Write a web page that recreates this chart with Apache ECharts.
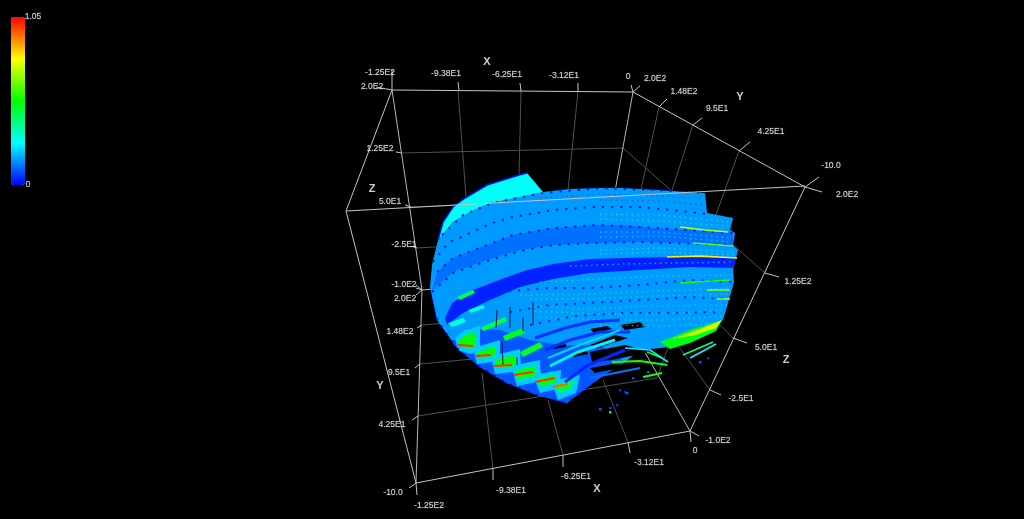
<!DOCTYPE html>
<html><head><meta charset="utf-8">
<style>html,body{margin:0;padding:0;background:#000}#c{width:1024px;height:519px}</style>
<script src="https://cdn.jsdelivr.net/npm/echarts@6/dist/echarts.min.js"></script></head>
<body><div id="c"></div>
<script>
// All outlines: [across, down] on the picture plane.
const legendMax = 1.05, legendMin = 0;
const rainbow = ['#0000ff','#00ffff','#00ff00','#ffff00','#ff0000'];

// wire frame
const frameBack = [
  [[392,90],[422,290],[416,483]], [[633,92],[600,274],[690,431]], [[422,290],[600,274]]
];
const frameFront = [
  [[392,90],[633,92],[805,187]], [[392,90],[346,211],[416,483],[690,431],[805,187]],
  [[346,211],[805,186]],
  [[392,70],[392,90]],[[376,87],[392,90]],[[633,92],[631,85]],[[633,92],[640,86]],
  [[402,153],[396,152]],[[411,207],[405,205]],[[417,248],[411,246]],[[422,290],[416,288]],
  [[416,483],[409,488]],[[416,483],[417,495]],
  [[458,82],[459,90]],[[520,83],[521,91]],[[578,83],[578,91]],
  [[659,107],[667,99]],[[693,125],[702,118]],[[739,151],[750,142]],[[805,187],[819,177]],[[805,187],[822,192]],
  [[765,273],[779,277]],[[733,338],[747,343]],[[710,390],[721,395]],[[690,431],[699,436]],[[690,431],[691,442]],
  [[422,325],[417,328]],[[420,364],[415,368]],[[418,416],[412,420]],[[422,290],[416,285]],[[422,290],[416,295]],
  [[493,469],[493,480]],[[563,455],[563,467]],[[628,442],[630,453]]
];
const gridLines = [
  [[402,153],[623,148],[765,273]], [[411,207],[600,200]], [[417,248],[600,237]],
  [[458,90],[466,197],[470,260]], [[482,373],[493,469]], [[521,91],[519,175],[519,260]], [[548,400],[563,455]],
  [[578,91],[568,190],[560,260]], [[603,380],[628,442]],
  [[659,107],[630,240]], [[693,125],[640,290]], [[739,151],[657,378]],
  [[422,325],[600,310]], [[420,364],[620,345]], [[418,416],[657,378]],
  [[600,200],[733,338]], [[600,237],[710,390]]
];

// point cloud regions: outlines and the value each carries
const silhouette = [[438,240],[453,222],[470,212],[490,203],[520,197],[543,192],[570,189],[600,188],[623,188],[657,190],[705,193],[707,213],[733,218],[730,230],[735,233],[733,245],[738,250],[735,262],[733,270],[734,282],[728,303],[723,320],[700,335],[670,347],[640,350],[625,362],[607,373],[593,383],[573,398],[567,403],[537,395],[507,383],[480,367],[457,348],[437,320],[430,287],[432,265]];
const wedge = [[438,240],[443,222],[453,207],[465,198],[487,185],[519,175],[527,173],[543,192],[520,197],[490,203],[470,212],[453,222]];
const bandMid = [[432,290],[437,272],[453,258],[487,245],[513,235],[553,228],[597,225],[623,225],[657,228],[733,233],[733,245],[690,243],[640,242],[590,243],[553,245],[520,250],[487,260],[453,272]];
const bandDark = [[445,318],[452,303],[473,290],[507,277],[527,270],[553,264],[590,259],[623,258],[673,257],[737,258],[733,268],[690,267],[640,270],[590,273],[553,279],[520,287],[490,300],[463,313],[447,325]];
const bandLower = [[452,342],[470,328],[500,330],[530,340],[560,345],[600,345],[625,362],[607,373],[593,383],[573,398],[567,403],[537,395],[507,383],[480,367],[457,348]];
const greenWedge = [[660,342],[690,330],[722,320],[716,331],[690,343],[670,349]];
const yellowWedge = [[672,339],[700,329],[722,320],[716,328],[695,335]];
const halo1 = [[455,338],[465,330],[480,326],[480,350],[470,354],[458,350]];
const halo2 = [[473,348],[500,340],[500,361],[477,364]];
const halo3 = [[491,356],[520,349],[521,371],[495,374]];
const halo4 = [[511,366],[540,360],[541,381],[517,386]];
const halo5 = [[533,375],[561,370],[560,388],[540,393]];
const halo6 = [[551,381],[580,375],[576,393],[558,400]];
const fin1 = [[458,342],[465,335],[476,332],[476,346],[470,349],[460,346]];
const fin2 = [[477,352],[496,346],[495,356],[479,358]];
const fin3 = [[495,360],[515,355],[516,366],[497,368]];
const fin4 = [[515,370],[535,366],[536,376],[518,380]];
const fin5 = [[537,379],[556,375],[555,383],[541,387]];
const fin6 = [[555,385],[574,380],[571,388],[559,393]];
const stripe1 = [[480,328],[505,317],[507,321],[484,331]];
const stripe2 = [[503,336],[523,328],[525,333],[505,341]];
const stripe3 = [[520,352],[540,342],[543,347],[523,357]];
const stripe4 = [[448,323],[463,318],[466,322],[452,327]];
const stripe5 = [[468,310],[483,305],[485,308],[471,313]];
const stripe6 = [[457,297],[473,290],[475,293],[460,300]];
const gap1 = [[553,346],[566,344],[566,347],[554,349]];
const gap2 = [[572,354],[587,351],[588,354],[574,357]];
const gap3 = [[590,329],[607,326],[612,329],[594,333]];
const gap4 = [[590,345],[615,335],[628,338],[598,348]];
const gap5 = [[590,352],[625,345],[650,352],[612,360],[592,362]];
const gap6 = [[620,325],[640,322],[645,327],[625,330]];
const gap7 = [[590,368],[612,364],[640,365],[620,368],[595,373]];

// dotted and bright arcs inside the cloud
const arcTop = [[442,235],[463,215],[492,203],[543,193],[600,188],[657,190],[705,193]];
const arcB = [[433,262],[448,243],[492,223],[513,217],[553,210],[593,207],[640,207],[690,212],[707,214]];
const arcC = [[437,272],[453,258],[487,245],[513,235],[553,228],[597,225],[657,228],[733,233]];
const arcD = [[432,292],[453,273],[487,261],[520,251],[553,245],[590,243],[640,242],[733,245]];
const arcE = [[473,300],[510,291],[550,288],[590,288],[640,285],[690,280],[733,282]];
const arcF = [[510,312],[550,305],[590,303],[640,300],[690,297],[728,299]];
const arcG = [[530,325],[575,316],[620,313],[670,313],[722,312]];
const arcEdge = [[432,300],[437,320],[457,348],[480,367],[507,383],[537,395],[567,403],[593,383]];
const wedgeEdge = [[438,240],[443,222],[453,207],[465,198],[487,185],[519,175],[527,173]];
const speckle1 = [[540,198],[600,194],[660,196],[704,199]];
const speckle2 = [[600,200],[660,201],[704,205]];
const speckle3 = [[600,214],[660,215],[730,222]];
const speckle4 = [[600,219],[660,221],[730,226]];
const speckle5 = [[600,232],[660,232],[732,238]];
const speckle6 = [[600,250],[660,248],[736,252]];
const speckle7 = [[570,266],[620,264],[734,262]];
const speckle8 = [[540,282],[600,279],[660,276],[733,275]];
const speckle9 = [[520,295],[580,294],[640,292],[730,288]];
const speckle10 = [[530,306],[590,309],[650,306],[727,305]];
const speckle11 = [[540,317],[600,320],[660,320],[724,316]];
const speckle12 = [[600,237],[660,236],[732,242]];
const speckle13 = [[600,254],[660,252],[736,255]];
const speckle14 = [[530,299],[590,299],[650,296],[730,294]];
const speckle15 = [[535,311],[600,314],[660,314],[725,310]];
const speckle16 = [[600,325],[660,326],[710,324]];
const hot1 = [[680,227],[705,230],[728,232]];
const hot2 = [[693,243],[733,246]];
const hot3 = [[667,257],[700,256],[737,258]];
const hot4 = [[680,283],[730,280]];
const hot5 = [[707,290],[730,290]];
const hot6 = [[717,299],[730,299]];
const red1 = [[458,345],[473,346]];
const red2 = [[476,356],[491,355]];
const red3 = [[494,366],[512,365]];
const red4 = [[514,375],[533,372]];
const red5 = [[535,382],[555,378]];
const red6 = [[553,387],[568,384]];
const finger1 = [[612,362],[640,361],[667,365]];
const finger2 = [[647,352],[662,358]];
const finger3 = [[643,377],[662,373]];
const finger4 = [[590,378],[620,372],[640,368]];
const finger5 = [[683,355],[713,342]];
const finger6 = [[690,358],[705,350],[716,344]];
const finger7 = [[625,348],[650,350],[668,362]];
const streak1 = [[535,338],[565,328],[590,322],[620,320]];
const streak2 = [[545,350],[570,340],[600,332],[630,332]];
const streak3 = [[550,366],[578,352],[615,340]];
const streak4 = [[565,382],[588,365],[625,350]];
const streak5 = [[548,358],[580,345],[620,330]];
const tick1 = [[497,310],[496,328]];
const tick2 = [[510,307],[510,328]];
const tick3 = [[523,317],[523,331]];
const tick4 = [[533,302],[533,325]];
const tick5 = [[502,342],[503,365]];
const tick6 = [[517,357],[517,365]];
const strays = [[633,378],[620,390],[627,393],[617,405],[610,408],[600,409],[610,412],[625,392],[648,372],[700,362],[708,358]];
const strayValues = [0.08,0.05,0.1,0.05,0.05,0.1,0.5,0.05,0.1,0.1,0.05];

const fills = [
  [silhouette,0.16],[wedge,0.27],[bandMid,0.115],[bandDark,0.035],[bandLower,0.09],
  [greenWedge,0.5],[yellowWedge,0.74],
  [halo1,0.21],[halo2,0.21],[halo3,0.21],[halo4,0.21],[halo5,0.21],[halo6,0.21],
  [fin1,0.52],[fin2,0.52],[fin3,0.52],[fin4,0.5],[fin5,0.5],[fin6,0.48],
  [stripe1,0.45],[stripe2,0.5],[stripe3,0.48],[stripe4,0.3],[stripe5,0.3],[stripe6,0.45]
];
const gaps = [gap1,gap2,gap3,gap4,gap5,gap6,gap7];
const dots = [[arcTop,0.02],[arcB,0.02],[arcC,0.015],[arcD,0.02],[arcE,0.03],[arcF,0.03],[arcG,0.03],[arcEdge,0.01]];
const speckles = [[speckle1,0.07],[speckle2,0.07],[speckle3,0.32],[speckle4,0.3],[speckle5,0.25],[speckle6,0.32],[speckle7,0.3],[speckle8,0.3],[speckle9,0.38],[speckle10,0.38],[speckle11,0.36],[speckle12,0.25],[speckle13,0.3],[speckle14,0.38],[speckle15,0.38],[speckle16,0.36]];
const solids = [[wedgeEdge,0.02,1.5],[hot1,0.72,1.6],[hot2,0.62,1.6],[hot3,0.8,1.6],[hot4,0.55,1.4],[hot5,0.68,1.4],[hot6,0.72,1.4],
  [streak1,0.05,3],[streak2,0.05,3],[streak3,0.25,3],[streak4,0.04,3],[streak5,0.22,2],
  [red1,1,1.8],[red2,1,1.8],[red3,1,1.8],[red4,1,1.8],[red5,1,1.8],[red6,0.95,1.8],
  [finger1,0.55,1.8],[finger2,0.55,1.8],[finger3,0.55,1.8],[finger4,0.12,1.8],[finger5,0.4,1.8],[finger6,0.25,1.8],[finger7,0.25,1.6]];
const darkTicks = [tick1,tick2,tick3,tick4,tick5,tick6];

// texts
const tickLabels = ['-1.25E2','-9.38E1','-6.25E1','-3.12E1','0','2.0E2','1.48E2','9.5E1','4.25E1','-10.0','2.0E2','1.25E2','5.0E1','-2.5E1','-1.0E2','0',
 '2.0E2','1.25E2','5.0E1','-2.5E1','-1.0E2','2.0E2','1.48E2','9.5E1','4.25E1','-10.0','-1.25E2','-9.38E1','-6.25E1','-3.12E1','1.05','0'];
const tickLabelAt = [[380,73],[446,74],[507,75],[564,76],[628,77],[655,79],[684,92],[717,109],[771,132],[831,166],[847,195],[798,282],[766,348],[741,399],[718,441],[695,451],
 [372,87],[380,149],[390,202],[404,245],[404,285],[405,299],[400,332],[399,373],[392,425],[393,493],[429,506],[511,491],[576,477],[649,463],[33,17],[28,185]];
const axisNames = ['X','Y','Z','X','Y','Z'];
const axisNameAt = [[487,62],[740,97],[372,189],[597,489],[380,386],[786,360]];

const items = [];
fills.forEach(f => items.push({value:[f[1]], pts:f[0], kind:'fill'}));
gaps.forEach(g => items.push({value:[0], pts:g, kind:'gap'}));
speckles.forEach(s => items.push({value:[s[1]], pts:s[0], kind:'speck'}));
dots.forEach(d => items.push({value:[d[1]], pts:d[0], kind:'dot'}));
darkTicks.forEach(t => items.push({value:[0], pts:t, kind:'tick'}));
solids.forEach(s => items.push({value:[s[1]], pts:s[0], kind:'line', w:s[2]}));
strays.forEach((p,i) => items.push({value:[strayValues[i]], pts:[p], kind:'stray'}));

function wire(lines, color, width, z){
  return lines.map(pts => ({type:'line', data:pts, showSymbol:false, silent:true, animation:false, clip:false, z,
    lineStyle:{color, width}}));
}
const chart = echarts.init(document.getElementById('c'), null, {renderer:'canvas'});
chart.setOption({
  backgroundColor:'#000', animation:false,
  grid:{left:0,right:0,top:0,bottom:0},
  xAxis:{type:'value',min:0,max:1024,show:false},
  yAxis:{type:'value',min:0,max:519,inverse:true,show:false},
  visualMap:{type:'continuous',min:legendMin,max:legendMax,left:-4,top:2,itemWidth:14,itemHeight:168,
    calculable:false,realtime:false,text:null,showLabel:false,seriesIndex:0,dimension:0,hoverLink:false,
    inRange:{color:rainbow},textStyle:{color:'#000',fontSize:1},formatter:()=>''},
  series:[
    {type:'custom', silent:true, z:5, clip:false, data:items, encode:{},
     renderItem(params, api){
       const it = items[params.dataIndex];
       const color = api.visual('color');
       const pts = it.pts.map(p => api.coord(p));
       if(it.kind==='fill') return {type:'polygon',shape:{points:pts,smooth:0},style:{fill:color}};
       if(it.kind==='gap') return {type:'polygon',shape:{points:pts},style:{fill:'#000'}};
       if(it.kind==='tick') return {type:'polyline',shape:{points:pts},style:{fill:null,stroke:'#001040',lineWidth:1}};
       if(it.kind==='stray') return {type:'rect',shape:{x:pts[0][0]-1,y:pts[0][1]-1,width:2.4,height:2.4},style:{fill:color}};
       if(it.kind==='speck') return {type:'polyline',shape:{points:pts},style:{fill:null,stroke:color,lineWidth:1.3,lineDash:[1.3,4],opacity:0.75}};
       if(it.kind==='dot') return {type:'polyline',shape:{points:pts},style:{fill:null,stroke:color,lineWidth:2,lineDash:[2.2,7]}};
       return {type:'polyline',shape:{points:pts},style:{fill:null,stroke:color,lineWidth:it.w}};
     }},
    ...wire(gridLines,'#505050',1,1),
    ...wire(frameBack,'#b8b8b8',1,2),
    ...wire(frameFront,'#c4c4c4',1,8),
    {type:'scatter',silent:true,z:10,symbolSize:0,animation:false,
     data:tickLabelAt.map((p,i)=>({value:p,label:{formatter:tickLabels[i]}})),
     label:{show:true,position:'inside',color:'#ffffff',fontFamily:'Liberation Sans',fontSize:8.5,textBorderColor:'rgba(255,255,255,0.35)',textBorderWidth:0.4}},
    {type:'scatter',silent:true,z:10,symbolSize:0,animation:false,
     data:axisNameAt.map((p,i)=>({value:p,label:{formatter:axisNames[i]}})),
     label:{show:true,position:'inside',color:'#ffffff',fontFamily:'Liberation Sans',fontWeight:'bold',fontSize:11}}
  ]
});
</script></body></html>
